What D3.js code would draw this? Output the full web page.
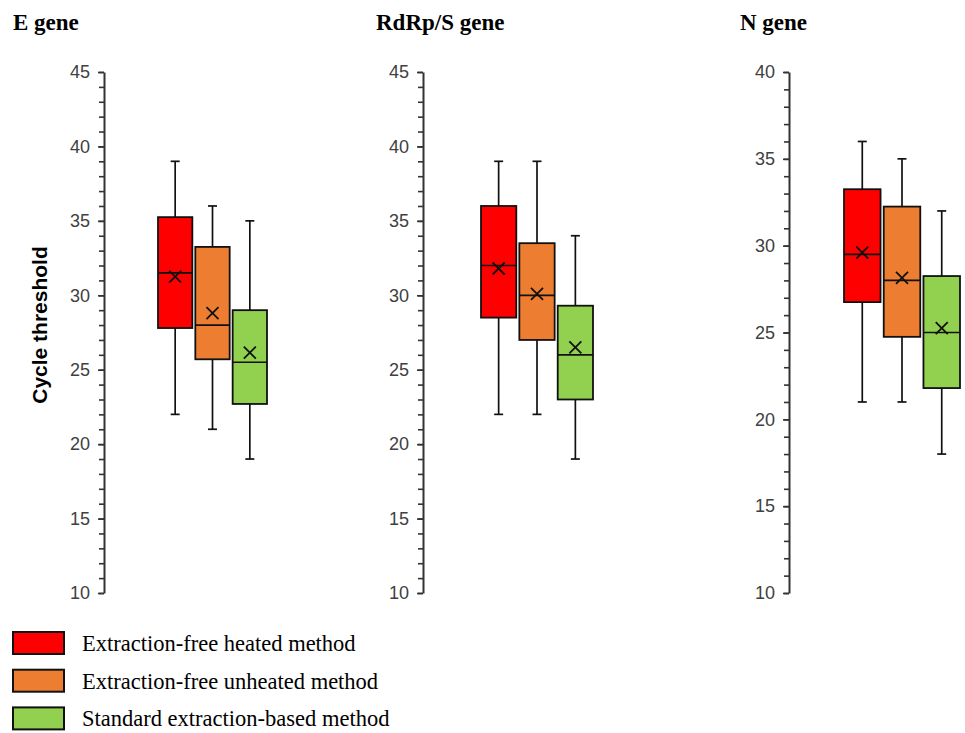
<!DOCTYPE html>
<html>
<head>
<meta charset="utf-8">
<script src="https://cdn.jsdelivr.net/npm/d3@7"></script>
<style>
  body { margin: 0; background: #fff; }
</style>
</head>
<body>
<svg width="965" height="733"></svg>
<script>
// data
var methods = ["Extraction-free heated method", "Extraction-free unheated method", "Standard extraction-based method"];
var genes = ["E gene", "RdRp/S gene", "N gene"];
var yMax = [45, 45, 40];

var eMin = [22, 21, 19], eQ1 = [27.8, 25.7, 22.7], eMed = [31.5, 28, 25.5], eQ3 = [35.25, 33.25, 29], eMax = [39, 36, 35], eMean = [31.25, 28.8, 26.15];
var rMin = [22, 22, 19], rQ1 = [28.5, 27, 23], rMed = [32, 30, 26], rQ3 = [36, 33.5, 29.3], rMax = [39, 39, 34], rMean = [31.8, 30.1, 26.5];
var nMin = [21, 21, 18], nQ1 = [26.75, 24.75, 21.8], nMed = [29.5, 28, 25], nQ3 = [33.25, 32.25, 28.25], nMax = [36, 35, 32], nMean = [29.6, 28.15, 25.25];

var colors = ["#ff0000", "#ed7d31", "#92d050"];

var stats = [
    [eMin, eQ1, eMed, eQ3, eMax, eMean],
    [rMin, rQ1, rMed, rQ3, rMax, rMean],
    [nMin, nQ1, nMed, nQ3, nMax, nMean]
];

// panel layout
var axisX = [104, 423, 789];
var bandRange = [[158, 267], [481, 593], [844, 960]];
var titleX = [13, 376, 740];
var yTop = 72, yBottom = 593;

var svg = d3.select("svg");

genes.forEach(function(gene, p) {
    var s = stats[p];
    var rows = methods.map(function(m, i) {
        return {method: m, min: s[0][i], q1: s[1][i], med: s[2][i], q3: s[3][i], max: s[4][i], mean: s[5][i], color: colors[i]};
    });

    var y = d3.scaleLinear().domain([10, yMax[p]]).range([yBottom, yTop]);
    var x = d3.scaleBand().domain(methods).range(bandRange[p]).paddingInner(0.08).paddingOuter(0);

    // title
    svg.append("text")
        .attr("x", titleX[p])
        .attr("y", 30)
        .style("font-family", "'Liberation Serif', 'Times New Roman', serif")
        .style("font-weight", "bold")
        .style("font-size", "23px")
        .text(gene);

    var g = svg.append("g").attr("transform", "translate(" + axisX[p] + ",0)");

    // minor ticks
    g.append("g")
        .call(d3.axisLeft(y).tickValues(d3.range(10, yMax[p] + 1, 1)).tickFormat("").tickSize(5).tickSizeOuter(0))
        .call(function(a) { a.select(".domain").remove(); })
        .selectAll("line").attr("stroke", "#333").attr("stroke-width", 1.6);

    // major ticks + labels
    var ax = g.append("g")
        .call(d3.axisLeft(y).tickValues(d3.range(10, yMax[p] + 1, 5)).tickSize(6).tickPadding(8).tickSizeOuter(0));
    ax.select(".domain").attr("stroke", "#333").attr("stroke-width", 2);
    ax.selectAll(".tick line").attr("stroke", "#333").attr("stroke-width", 1.6);
    ax.selectAll(".tick text")
        .style("font-family", "'Liberation Sans', Arial, sans-serif")
        .style("font-size", "18px")
        .attr("fill", "#404040");

    var boxes = svg.append("g").selectAll("g").data(rows).enter().append("g");

    // whiskers
    boxes.append("line")
        .attr("x1", function(d) { return x(d.method) + x.bandwidth() / 2; })
        .attr("x2", function(d) { return x(d.method) + x.bandwidth() / 2; })
        .attr("y1", function(d) { return y(d.max); })
        .attr("y2", function(d) { return y(d.min); })
        .attr("stroke", "#111").attr("stroke-width", 1.7);
    ["min", "max"].forEach(function(k) {
        boxes.append("line")
            .attr("x1", function(d) { return x(d.method) + x.bandwidth() / 2 - 4.5; })
            .attr("x2", function(d) { return x(d.method) + x.bandwidth() / 2 + 4.5; })
            .attr("y1", function(d) { return y(d[k]); })
            .attr("y2", function(d) { return y(d[k]); })
            .attr("stroke", "#111").attr("stroke-width", 1.7);
    });

    // boxes
    boxes.append("rect")
        .attr("x", function(d) { return x(d.method); })
        .attr("width", x.bandwidth())
        .attr("y", function(d) { return y(d.q3); })
        .attr("height", function(d) { return y(d.q1) - y(d.q3); })
        .attr("fill", function(d) { return d.color; })
        .attr("stroke", "#111").attr("stroke-width", 1.8);

    // median
    boxes.append("line")
        .attr("x1", function(d) { return x(d.method); })
        .attr("x2", function(d) { return x(d.method) + x.bandwidth(); })
        .attr("y1", function(d) { return y(d.med); })
        .attr("y2", function(d) { return y(d.med); })
        .attr("stroke", "#111").attr("stroke-width", 1.7);

    // mean marker
    boxes.append("path")
        .attr("d", function(d) {
            var cx = x(d.method) + x.bandwidth() / 2, cy = y(d.mean), r = 6;
            return "M" + (cx - r) + "," + (cy - r) + "L" + (cx + r) + "," + (cy + r) +
                   "M" + (cx - r) + "," + (cy + r) + "L" + (cx + r) + "," + (cy - r);
        })
        .attr("stroke", "#111").attr("stroke-width", 1.8).attr("fill", "none");
});

// y axis label
svg.append("text")
    .attr("transform", "translate(47,325) rotate(-90)")
    .attr("text-anchor", "middle")
    .style("font-family", "'Liberation Sans', Arial, sans-serif")
    .style("font-weight", "bold")
    .style("font-size", "21px")
    .text("Cycle threshold");

// legend
var legend = svg.append("g").selectAll("g").data(methods).enter().append("g")
    .attr("transform", function(d, i) { return "translate(13," + (632 + i * 37.7) + ")"; });
legend.append("rect")
    .attr("width", 51).attr("height", 22)
    .attr("fill", function(d, i) { return colors[i]; })
    .attr("stroke", "#111").attr("stroke-width", 2);
legend.append("text")
    .attr("x", 69).attr("y", 19)
    .style("font-family", "'Liberation Serif', 'Times New Roman', serif")
    .style("font-size", "22.5px")
    .text(function(d) { return d; });
</script>
</body>
</html>
